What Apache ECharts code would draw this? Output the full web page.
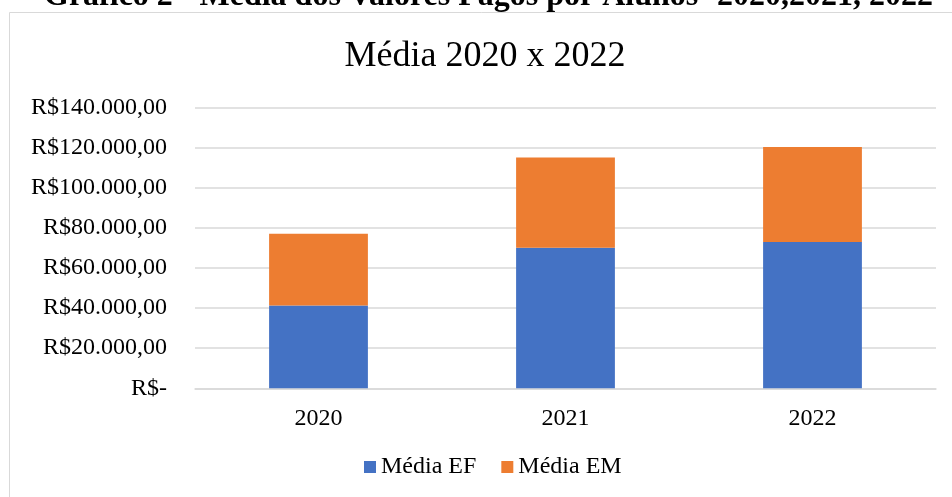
<!DOCTYPE html>
<html>
<head>
<meta charset="utf-8">
<script src="https://cdn.jsdelivr.net/npm/echarts@6/dist/echarts.min.js"></script>
<style>
html,body{margin:0;padding:0;background:#fff;}
#c{width:952px;height:497px;}
</style>
</head>
<body>
<div id="c"></div>
<script>
var categories = ['2020', '2021', '2022'];
var mediaEF = [41300, 70000, 72900];
var mediaEM = [35700, 45000, 47300];
var seriesNames = ['Média EF', 'Média EM'];
var chartTitle = 'Média 2020 x 2022';
var pageTitle = 'Gráfico 2 - Média dos Valores Pagos por Alunos- 2020,2021, 2022';

function fmt(v) {
  if (v === 0) return 'R$-';
  var s = String(Math.round(v)).replace(/\B(?=(\d{3})+(?!\d))/g, '.');
  return 'R$' + s + ',00';
}

var serif = '"Liberation Serif", "Times New Roman", serif';
var chart = echarts.init(document.getElementById('c'));
chart.setOption({
  animation: false,
  backgroundColor: '#fff',
  textStyle: { fontFamily: serif },
  graphic: [
    { type: 'rect', shape: { x: 9.5, y: 12.5, width: 1000, height: 600 },
      style: { fill: 'none', stroke: '#d9d9d9', lineWidth: 1 }, silent: true },
    { type: 'text', left: 44, top: -19,
      style: { text: pageTitle, font: 'bold 32px ' + serif, fill: '#000' } },
    { type: 'text', x: 485, y: 57,
      style: { text: chartTitle, font: '36px ' + serif, fill: '#000', textAlign: 'center', textVerticalAlign: 'middle' } }
  ],
  legend: {
    left: 359, top: 450,
    itemWidth: 12, itemHeight: 12, itemGap: 25,
    icon: 'rect',
    textStyle: { fontFamily: serif, fontSize: 24, color: '#000' },
    data: seriesNames
  },
  grid: { left: 195, right: 16, top: 107.3, bottom: 108.7, containLabel: false },
  xAxis: {
    type: 'category',
    data: categories,
    axisTick: { show: false },
    axisLine: { lineStyle: { color: '#d9d9d9', width: 1.5 } },
    axisLabel: { fontFamily: serif, fontSize: 24, color: '#000', margin: 18 }
  },
  yAxis: {
    type: 'value',
    min: 0, max: 140000, interval: 20000,
    axisLine: { show: false },
    axisTick: { show: false },
    splitLine: { lineStyle: { color: '#d9d9d9', width: 1.5 } },
    axisLabel: { fontFamily: serif, fontSize: 24, color: '#000', margin: 28, formatter: fmt }
  },
  series: [
    { name: seriesNames[0], type: 'bar', stack: 's', data: mediaEF, barWidth: '40%',
      itemStyle: { color: '#4472C4' } },
    { name: seriesNames[1], type: 'bar', stack: 's', data: mediaEM, barWidth: '40%',
      itemStyle: { color: '#ED7D31' } }
  ]
});
</script>
</body>
</html>
